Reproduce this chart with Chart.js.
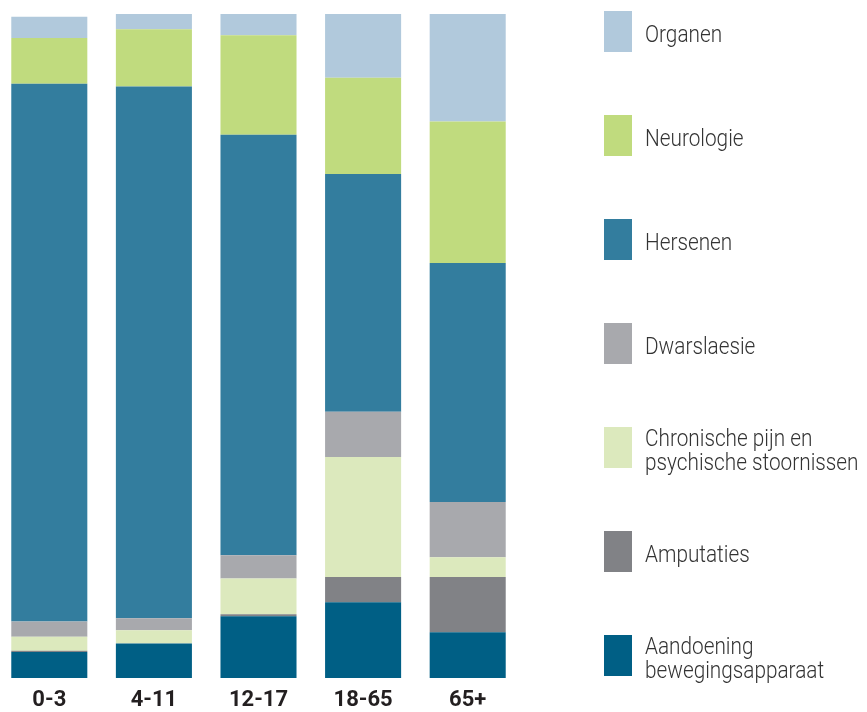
<!DOCTYPE html>
<html>
<head>
<meta charset="utf-8">
<script src="https://cdn.jsdelivr.net/npm/chart.js@4.4.1/dist/chart.umd.min.js"></script>
<style>
    html, body { margin: 0; padding: 0; background: #ffffff; width: 867px; height: 712px; overflow: hidden; }
    #chartBox { position: absolute; left: -3px; top: 0; width: 523px; height: 712px; }
    #legend { position: absolute; left: 0; top: 0; width: 867px; height: 712px; }
    .swatch { position: absolute; left: 604px; width: 28px; height: 41px; }
    .legendText {
        position: absolute; left: 645px; white-space: nowrap;
        font-family: Roboto, "Noto Sans", sans-serif; font-weight: 300;
        font-size: 24px; line-height: 24px; color: #333333;
        transform: scaleX(0.865); transform-origin: 0 0;
    }
</style>
</head>
<body>
<div id="chartBox"><canvas id="ageChart"></canvas></div>
<div id="legend"></div>
<script>
// age groups along the x axis
const ageGroups = ['0-3', '4-11', '12-17', '18-65', '65+'];

// series, bottom of the stack first (share in %)
const seriesNames = [
    ['Aandoening', 'bewegingsapparaat'],
    ['Amputaties'],
    ['Chronische pijn en', 'psychische stoornissen'],
    ['Dwarslaesie'],
    ['Hersenen'],
    ['Neurologie'],
    ['Organen']
];
const seriesColors = ['#005f85', '#818286', '#dce9bd', '#a8a9ad', '#337d9e', '#c0db7e', '#b1c9dc'];

const aandoening  = [3.9, 5.2, 9.3, 11.4, 6.9];
const amputaties  = [0.2, 0.0, 0.3, 3.8, 8.3];
const chronisch   = [2.1, 2.0, 5.4, 18.1, 3.0];
const dwarslaesie = [2.3, 1.8, 3.5, 6.8, 8.3];
const hersenen    = [81.0, 80.1, 63.3, 35.8, 36.0];
const neurologie  = [6.9, 8.6, 15.0, 14.5, 21.3];
const organen     = [3.2, 2.3, 3.3, 9.8, 16.2];

const seriesValues = [aandoening, amputaties, chronisch, dwarslaesie, hersenen, neurologie, organen];

const datasets = seriesNames.map((name, i) => ({
    label: name.join(' '),
    data: seriesValues[i],
    backgroundColor: seriesColors[i],
    borderWidth: 0,
    barPercentage: 0.727,
    categoryPercentage: 1.0
}));

new Chart(document.getElementById('ageChart').getContext('2d'), {
    type: 'bar',
    data: { labels: ageGroups, datasets: datasets },
    options: {
        responsive: true,
        maintainAspectRatio: false,
        animation: false,
        layout: { padding: { top: 14, left: 0, right: 0, bottom: 0 } },
        plugins: { legend: { display: false }, tooltip: { enabled: false } },
        scales: {
            x: {
                stacked: true,
                grid: { display: false, drawTicks: false },
                border: { display: false },
                ticks: {
                    color: '#231f20',
                    padding: 9,
                    font: { family: 'Roboto', size: 22, weight: 'bold' }
                },
                afterFit: function (scale) { scale.height = 34; }
            },
            y: {
                stacked: true,
                display: false,
                min: 0,
                max: 100
            }
        }
    }
});

// legend on the right, top entry = top of the stack
const legend = document.getElementById('legend');
const order = seriesNames.map((_, i) => i).reverse();
order.forEach((idx, row) => {
    const top = 11 + row * 104;
    const sw = document.createElement('div');
    sw.className = 'swatch';
    sw.style.top = top + 'px';
    sw.style.background = seriesColors[idx];
    legend.appendChild(sw);

    const lines = seriesNames[idx];
    const tx = document.createElement('div');
    tx.className = 'legendText';
    tx.style.top = (top + 23.3 - lines.length * 12) + 'px';
    tx.innerHTML = lines.join('<br>');
    legend.appendChild(tx);
});
</script>
</body>
</html>
